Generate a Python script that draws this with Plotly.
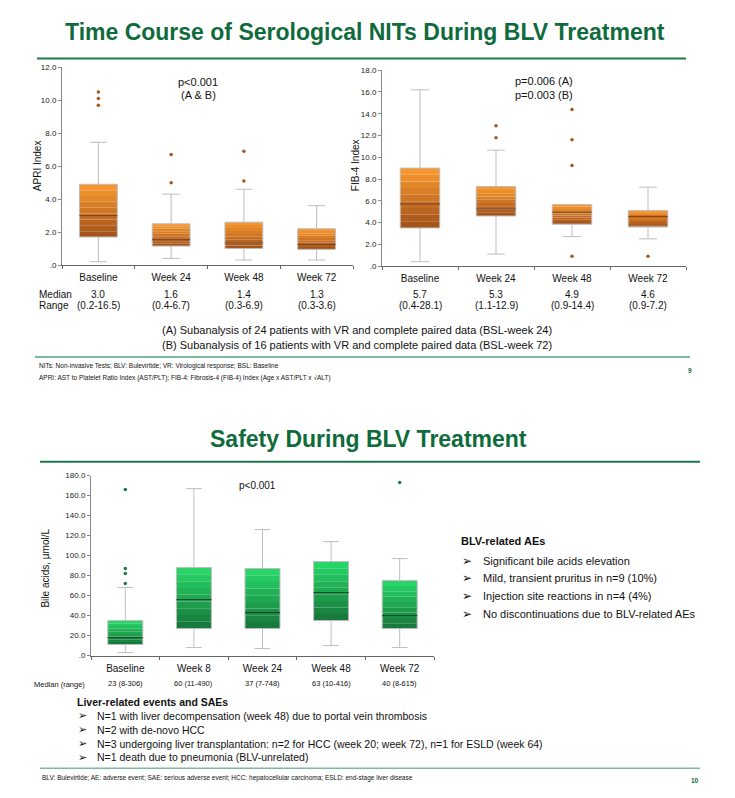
import plotly.graph_objects as go

W, H = 735, 798

# ---------------- data ----------------
apri_cats = ["Baseline", "Week 24", "Week 48", "Week 72"]
apri_q1 = [1.7, 1.15, 1.0, 0.95]
apri_median = [3.0, 1.55, 1.35, 1.25]
apri_q3 = [4.9, 2.5, 2.6, 2.2]
apri_low = [0.2, 0.4, 0.3, 0.3]
apri_high = [7.45, 4.3, 4.6, 3.6]
apri_out_x = ["Baseline", "Baseline", "Baseline", "Week 24", "Week 24", "Week 48", "Week 48"]
apri_out_y = [9.7, 10.1, 10.5, 5.0, 6.7, 5.1, 6.9]
apri_median_txt = ["3.0", "1.6", "1.4", "1.3"]
apri_range_txt = ["(0.2-16.5)", "(0.4-6.7)", "(0.3-6.9)", "(0.3-3.6)"]
apri_ticks = [0, 2, 4, 6, 8, 10, 12]
apri_ticktext = [".0", "2.0", "4.0", "6.0", "8.0", "10.0", "12.0"]

fib_cats = ["Baseline", "Week 24", "Week 48", "Week 72"]
fib_q1 = [3.5, 4.6, 3.85, 3.65]
fib_median = [5.7, 5.25, 4.95, 4.55]
fib_q3 = [9.0, 7.3, 5.65, 5.1]
fib_low = [0.4, 1.1, 2.7, 2.5]
fib_high = [16.2, 10.65, 5.65, 7.25]
fib_out_x = ["Week 24", "Week 24", "Week 48", "Week 48", "Week 48", "Week 48", "Week 72"]
fib_out_y = [11.8, 12.9, 0.9, 9.25, 11.6, 14.4, 0.9]
fib_median_txt = ["5.7", "5.3", "4.9", "4.6"]
fib_range_txt = ["(0.4-28.1)", "(1.1-12.9)", "(0.9-14.4)", "(0.9-7.2)"]
fib_ticks = [0, 2, 4, 6, 8, 10, 12, 14, 16, 18]
fib_ticktext = [".0", "2.0", "4.0", "6.0", "8.0", "10.0", "12.0", "14.0", "16.0", "18.0"]

ba_cats = ["Baseline", "Week 8", "Week 24", "Week 48", "Week 72"]
ba_q1 = [11, 27, 27, 35, 27]
ba_median = [18, 56, 43, 63, 40]
ba_q3 = [35, 88, 87, 94, 75]
ba_low = [3, 8, 7, 10, 8]
ba_high = [68, 167, 126, 114, 97]
ba_out_x = ["Baseline", "Baseline", "Baseline", "Baseline", "Week 72"]
ba_out_y = [72, 82, 87, 166, 173]
ba_median_txt = ["23 (8-306)", "60 (11-490)", "37 (7-748)", "63 (10-416)", "40 (8-615)"]
ba_ticks = [0, 20, 40, 60, 80, 100, 120, 140, 160, 180]
ba_ticktext = [".0", "20.0", "40.0", "60.0", "80.0", "100.0", "120.0", "140.0", "160.0", "180.0"]

ae_items = [
    "Significant bile acids elevation",
    "Mild, transient pruritus in n=9 (10%)",
    "Injection site reactions in n=4 (4%)",
    "No discontinuations due to BLV-related AEs",
]
liver_items = [
    "N=1 with liver decompensation (week 48) due to portal vein thrombosis",
    "N=2 with de-novo HCC",
    "N=3 undergoing liver transplantation: n=2 for HCC (week 20; week 72), n=1 for ESLD (week 64)",
    "N=1 death due to pneumonia (BLV-unrelated)",
]

# ---------------- helpers ----------------
FONT = "Liberation Sans, Arial, sans-serif"
GREEN = "#0f6b3c"


def px(x):
    return x / W


def py(y):
    return 1 - y / H


def hex2rgb(h):
    h = h.lstrip("#")
    return [int(h[i:i + 2], 16) for i in (0, 2, 4)]


def mix(c1, c2, t):
    a, b = hex2rgb(c1), hex2rgb(c2)
    return "rgb(%d,%d,%d)" % tuple(round(a[i] + (b[i] - a[i]) * t) for i in range(3))


fig = go.Figure()


def panel(cats, q1, med, q3, lo, hi, ox, oy, xa, ya, top_col, bot_col,
          med_col, out_col, box_px, width=0.52, nb=9):
    for i in range(nb):
        t = i / (nb - 1)
        fig.add_trace(go.Bar(
            x=cats,
            y=[(b - a) / nb for a, b in zip(q1, q3)],
            base=[a + (b - a) * i / nb for a, b in zip(q1, q3)],
            width=width, marker=dict(color=mix(bot_col, top_col, t), line_width=0),
            xaxis=xa, yaxis=ya, hoverinfo="skip", showlegend=False))
    fig.add_trace(go.Box(
        x=cats, q1=q1, median=med, q3=q3, lowerfence=lo, upperfence=hi,
        width=width, whiskerwidth=0.45, fillcolor="rgba(0,0,0,0)",
        line=dict(color="#bdbdbd", width=1), boxpoints=False,
        xaxis=xa, yaxis=ya, showlegend=False, hoverinfo="skip"))
    fig.add_trace(go.Scatter(
        x=cats, y=med, mode="markers",
        marker=dict(symbol="line-ew", size=box_px / 1.4, line=dict(color=med_col, width=1.3)),
        xaxis=xa, yaxis=ya, showlegend=False, hoverinfo="skip"))
    fig.add_trace(go.Scatter(
        x=ox, y=oy, mode="markers",
        marker=dict(size=3.5, color=out_col),
        xaxis=xa, yaxis=ya, showlegend=False, hoverinfo="skip"))


# panel geometry (pixels)
A = dict(l=62, r=353, t=64, b=264)
F = dict(l=382, r=686, t=67, b=265)
B = dict(l=91, r=434, t=477, b=659)

ORANGE_TOP, ORANGE_BOT = "#f7962f", "#a5551a"
GREEN_TOP, GREEN_BOT = "#27d466", "#177a3c"

panel(apri_cats, apri_q1, apri_median, apri_q3, apri_low, apri_high,
      apri_out_x, apri_out_y, "x", "y", ORANGE_TOP, ORANGE_BOT, "#8a4512", "#a9561c",
      (A["r"] - A["l"]) / len(apri_cats) * 0.52)
panel(fib_cats, fib_q1, fib_median, fib_q3, fib_low, fib_high,
      fib_out_x, fib_out_y, "x2", "y2", ORANGE_TOP, ORANGE_BOT, "#8a4512", "#a9561c",
      (F["r"] - F["l"]) / len(fib_cats) * 0.52)
panel(ba_cats, ba_q1, ba_median, ba_q3, ba_low, ba_high,
      ba_out_x, ba_out_y, "x3", "y3", GREEN_TOP, GREEN_BOT, "#0f4f27", "#1a7a45",
      (B["r"] - B["l"]) / len(ba_cats) * 0.51, width=0.51)


def xax(g, n, anchor):
    return dict(domain=[px(g["l"]), px(g["r"])], range=[-0.5, n - 0.5], type="category",
                anchor=anchor, showline=True, linecolor="#666", linewidth=1,
                ticks="outside", tickson="boundaries", ticklen=3, tickcolor="#666",
                ticklabelstandoff=3,
                tickfont=dict(family=FONT, size=10, color="#111"), showgrid=False,
                zeroline=False)


def yax(g, rng, tv, tt, anchor):
    return dict(domain=[py(g["b"]), py(g["t"])], range=rng, tickvals=tv, ticktext=tt,
                anchor=anchor, showline=True, linecolor="#888", linewidth=1,
                ticks="outside", ticklen=3, tickcolor="#888",
                tickfont=dict(family=FONT, size=8, color="#222"), showgrid=False,
                zeroline=False)


fig.update_layout(
    width=W, height=H, margin=dict(l=0, r=0, t=0, b=0),
    paper_bgcolor="white", plot_bgcolor="rgba(0,0,0,0)",
    barmode="overlay", boxmode="overlay", showlegend=False,
    xaxis=xax(A, 4, "y"), yaxis=yax(A, [0, 12], apri_ticks, apri_ticktext, "x"),
    xaxis2=xax(F, 4, "y2"), yaxis2=yax(F, [0, 18], fib_ticks, fib_ticktext, "x2"),
    xaxis3=xax(B, 5, "y3"), yaxis3=yax(B, [0, 180], ba_ticks, ba_ticktext, "x3"),
)

ann = []


def text(x, y, s, size=10, color="#111", anchor="center", family=FONT, xref="paper", angle=0):
    ann.append(dict(x=x if xref != "paper" else px(x), y=py(y), xref=xref, yref="paper",
                    text=s, showarrow=False, xanchor=anchor, yanchor="middle", textangle=angle,
                    font=dict(family=family, size=size, color=color)))


# titles
text(365, 28, "<b>Time Course of Serological NITs During BLV Treatment</b>", 23, GREEN)
text(368, 440, "<b>Safety During BLV Treatment</b>", 23, GREEN)

# axis titles
text(37, 164, "APRI Index", 10, angle=-90)
text(355, 163, "FIB-4 Index", 10, angle=-90)
text(46, 571, "Bile acids, µmol/L", 10, angle=-90)

# p-values
text(198, 79, "p<0.001", 11)
text(198, 92, "(A & B)", 11)
text(513, 78, "p=0.006 (A)", 11, anchor="left")
text(513, 92, "p=0.003 (B)", 11, anchor="left")
text(257, 487, "p<0.001", 10)

# median / range rows
text(37, 294, "Median", 10, anchor="left")
text(37, 305, "Range", 10, anchor="left")
for c, m, r in zip(apri_cats, apri_median_txt, apri_range_txt):
    text(c, 294, m, 10, xref="x")
    text(c, 305, r, 10, xref="x")
for c, m, r in zip(fib_cats, fib_median_txt, fib_range_txt):
    text(c, 294, m, 10, xref="x2")
    text(c, 305, r, 10, xref="x2")
text(32, 688, "Median (range)", 7.5, anchor="left")
for c, m in zip(ba_cats, ba_median_txt):
    text(c, 687, m, 7.5, xref="x3")

# subanalysis notes
text(160, 330, "(A) Subanalysis of 24 patients with VR and complete paired data (BSL-week 24)", 11, anchor="left")
text(160, 345, "(B) Subanalysis of 16 patients with VR and complete paired data (BSL-week 72)", 11, anchor="left")

# footnotes slide 1
text(37, 366, "NITs: Non-invasive Tests; BLV: Bulevirtide; VR: Virological response; BSL: Baseline", 6.5, anchor="left")
text(37, 378, "APRI: AST to Platelet Ratio Index (AST/PLT); FIB-4: Fibrosis-4 (FIB-4) Index (Age x AST/PLT x √ALT)", 6.5, anchor="left")
text(690, 371, "<b>9</b>", 6.5, GREEN)

# BLV-related AEs
text(459, 543, "<b>BLV-related AEs</b>", 11, anchor="left")
for i, s in enumerate(ae_items):
    text(460, 563 + 18 * i, "<b>➢</b>", 12, anchor="left", family="DejaVu Sans")
    text(481, 563 + 18 * i, s, 11, anchor="left")

# Liver-related events
text(75, 706, "<b>Liver-related events and SAEs</b>", 10.5, anchor="left")
for i, s in enumerate(liver_items):
    text(76, 720 + 14 * i, "<b>➢</b>", 11, anchor="left", family="DejaVu Sans")
    text(95, 720 + 14 * i, s, 10.5, anchor="left")

# footnote slide 2
text(40, 783, "BLV: Bulevirtide; AE: adverse event; SAE: serious adverse event; HCC: hepatocellular carcinoma; ESLD: end-stage liver disease", 6.5, anchor="left")
text(695, 785, "<b>10</b>", 6.5, GREEN)

fig.update_layout(annotations=ann)

# separator lines
shapes = [
    dict(type="line", xref="paper", yref="paper", x0=px(37), x1=px(686), y0=py(55), y1=py(55),
         line=dict(color="#1b7a4a", width=2)),
    dict(type="line", xref="paper", yref="paper", x0=px(35), x1=px(690), y0=py(357), y1=py(357),
         line=dict(color="#7db8a0", width=2)),
    dict(type="line", xref="paper", yref="paper", x0=px(40), x1=px(700), y0=py(463), y1=py(463),
         line=dict(color="#1b7a4a", width=2)),
    dict(type="line", xref="paper", yref="paper", x0=px(40), x1=px(700), y0=py(773), y1=py(773),
         line=dict(color="#7db8a0", width=1.5)),
]
fig.update_layout(shapes=shapes)

fig.write_html("out.html", config={"displayModeBar": False},
               post_script="document.body.style.margin='0';")
